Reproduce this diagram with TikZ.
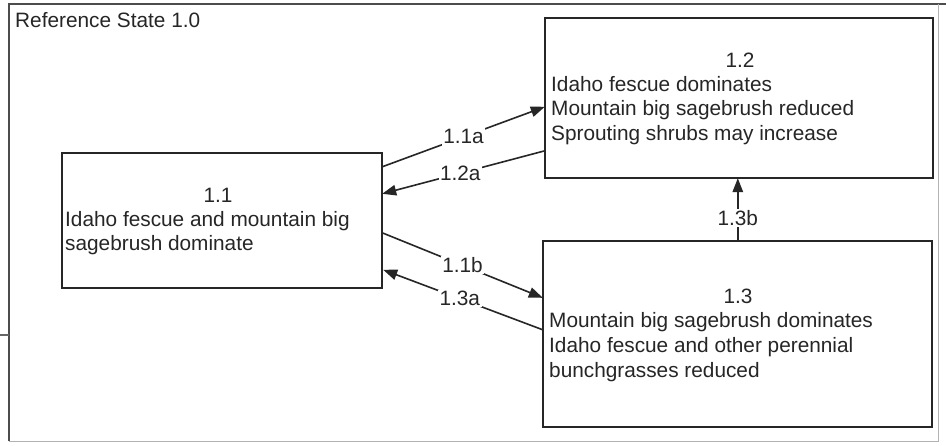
\documentclass[tikz,border=0pt]{standalone}
\usepackage{fontspec}
\setmainfont{Liberation Sans}
\usetikzlibrary{arrows.meta}
\tikzset{
  txt/.style={inner sep=0pt, font=\fontsize{20.8}{24}\selectfont, text=black!85},
  box/.style={draw=black!85, line width=1.5pt, fill=none},
  conn/.style={draw=black!85, line width=1.6pt, -{Triangle[length=14pt,width=10.5pt]}},
  lbl/.style={txt, fill=white, inner sep=1.5pt}
}
\begin{document}
\begin{tikzpicture}[x=1pt,y=-1pt]
\useasboundingbox (0,0) rectangle (946,445);
\fill[white] (0,0) rectangle (946,445);
% outer frame
\draw[black!70, line width=1.4pt] (9,441) -- (9,4) -- (946,4);
\draw[black!30, line width=1pt] (938,4) -- (938,441) -- (9,441);
\draw[black!60, line width=1.2pt] (0,335) -- (9,335);
\node[txt, anchor=base west] (title) at (15,27) {Reference State 1.0};

% boxes
\draw[box] (62,153) rectangle (382,288);
\node[inner sep=0pt, minimum width=320pt, minimum height=135pt] (b11) at (222,220.5) {};
\draw[box] (545,18) rectangle (933,178);
\node[inner sep=0pt, minimum width=388pt, minimum height=160pt] (b12) at (739,98) {};
\draw[box] (543,241) rectangle (932,427);
\node[inner sep=0pt, minimum width=389pt, minimum height=186pt] (b13) at (737.5,334) {};

% box texts
\node[txt, anchor=base] (t11) at (218,202) {1.1};
\node[txt, anchor=base west] (t11a) at (65,226) {Idaho fescue and mountain big};
\node[txt, anchor=base west] (t11b) at (65,250) {sagebrush dominate};

\node[txt, anchor=base] (t12) at (740,67) {1.2};
\node[txt, anchor=base west] (t12a) at (551,91) {Idaho fescue dominates};
\node[txt, anchor=base west] (t12b) at (551,115) {Mountain big sagebrush reduced};
\node[txt, anchor=base west] (t12c) at (551,140) {Sprouting shrubs may increase};

\node[txt, anchor=base] (t13) at (738,303) {1.3};
\node[txt, anchor=base west] (t13a) at (549,327) {Mountain big sagebrush dominates};
\node[txt, anchor=base west] (t13b) at (549,352) {Idaho fescue and other perennial};
\node[txt, anchor=base west] (t13c) at (549,377) {bunchgrasses reduced};

% connector end points on the box borders
\path (b11.north east) ++(0,14) coordinate (p11a);
\path (b12.north west) ++(0,89) coordinate (q11a);
\path (b12.north west) ++(0,133) coordinate (p12a);
\path (b11.north east) ++(0,41) coordinate (q12a);
\path (b11.north east) ++(0,80) coordinate (p11b);
\path (b13.north west) ++(0,57) coordinate (q11b);
\path (b13.north west) ++(0,89) coordinate (p13a);
\path (b11.north east) ++(1,117) coordinate (q13a);
\path (b13.north west) ++(195,0) coordinate (p13b);
\path (b12.south west) ++(193,0) coordinate (q13b);

\draw[conn] (p11a) -- node[lbl] {1.1a} (q11a);
\draw[conn] (p12a) -- node[lbl, pos=0.52] {1.2a} (q12a);
\draw[conn] (p11b) -- node[lbl] {1.1b} (q11b);
\draw[conn] (p13a) -- node[lbl, pos=0.52] {1.3a} (q13a);
\draw[conn] (p13b) -- node[lbl, pos=0.36] {1.3b} (q13b);
\end{tikzpicture}
\end{document}
